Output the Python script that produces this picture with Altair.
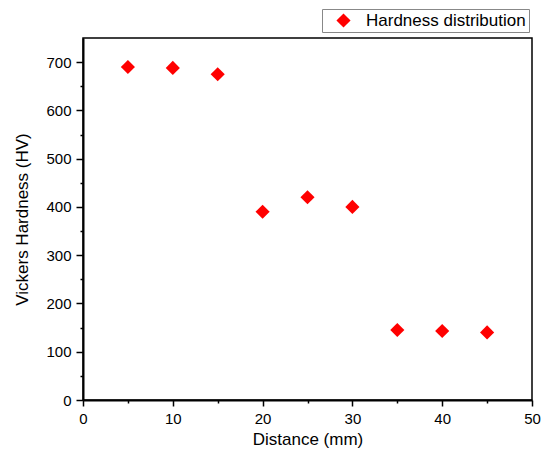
import altair as alt
import pandas as pd

distance = [5, 10, 15, 20, 25, 30, 35, 40, 45]
hardness = [690, 688, 675, 390, 420, 400, 145, 143, 140]
series = ["Hardness distribution"] * len(distance)

df = pd.DataFrame({"Distance": distance, "Hardness": hardness, "Series": series})

FONT = "Liberation Sans"

chart = alt.Chart(df).mark_point(shape="diamond", filled=True, size=200, opacity=1).encode(
    x=alt.X("Distance:Q",
            scale=alt.Scale(domain=[0, 50], nice=False, zero=False),
            axis=alt.Axis(title="Distance (mm)",
                          values=[0, 5, 10, 15, 20, 25, 30, 35, 40, 45, 50],
                          labelExpr="datum.value % 10 === 0 ? datum.label : ''",
                          tickSize={"condition": {"test": "datum.value % 10 === 0", "value": 6}, "value": 3},
                          grid=False)),
    y=alt.Y("Hardness:Q",
            scale=alt.Scale(domain=[0, 750], nice=False, zero=True),
            axis=alt.Axis(title="Vickers Hardness (HV)",
                          values=[0, 50, 100, 150, 200, 250, 300, 350, 400, 450, 500, 550, 600, 650, 700],
                          labelExpr="datum.value % 100 === 0 ? datum.label : ''",
                          tickSize={"condition": {"test": "datum.value % 100 === 0", "value": 7}, "value": 3},
                          grid=False)),
    color=alt.Color("Series:N",
                    scale=alt.Scale(range=["#ff0000"]),
                    legend=alt.Legend(title=None, orient="none", legendX=239, legendY=-29,
                                      strokeColor="#888888", padding=3,
                                      symbolType="diamond", symbolSize=200,
                                      labelFontSize=17, labelFont=FONT,
                                      labelColor="#000000", symbolOffset=10,
                                      labelOffset=14, rowPadding=0)),
).properties(
    width=449, height=362,
    autosize=alt.AutoSizeParams(type="none"),
    padding={"left": 75, "top": 30, "right": 9, "bottom": 52},
).configure_view(
    stroke="#000000", strokeWidth=1.5
).configure_axis(
    domainColor="#000000", domainWidth=2, tickColor="#000000", tickWidth=1.5,
    labelFont=FONT, labelFontSize=15, labelColor="#000000", labelPadding=5,
    titleFont=FONT, titleFontSize=17, titleFontWeight="normal", titleColor="#000000",
    labelFlush=False
).configure_axisX(titlePadding=5).configure_axisY(titlePadding=14)

chart.save("out.html", embed_options={"renderer": "svg", "actions": False})
